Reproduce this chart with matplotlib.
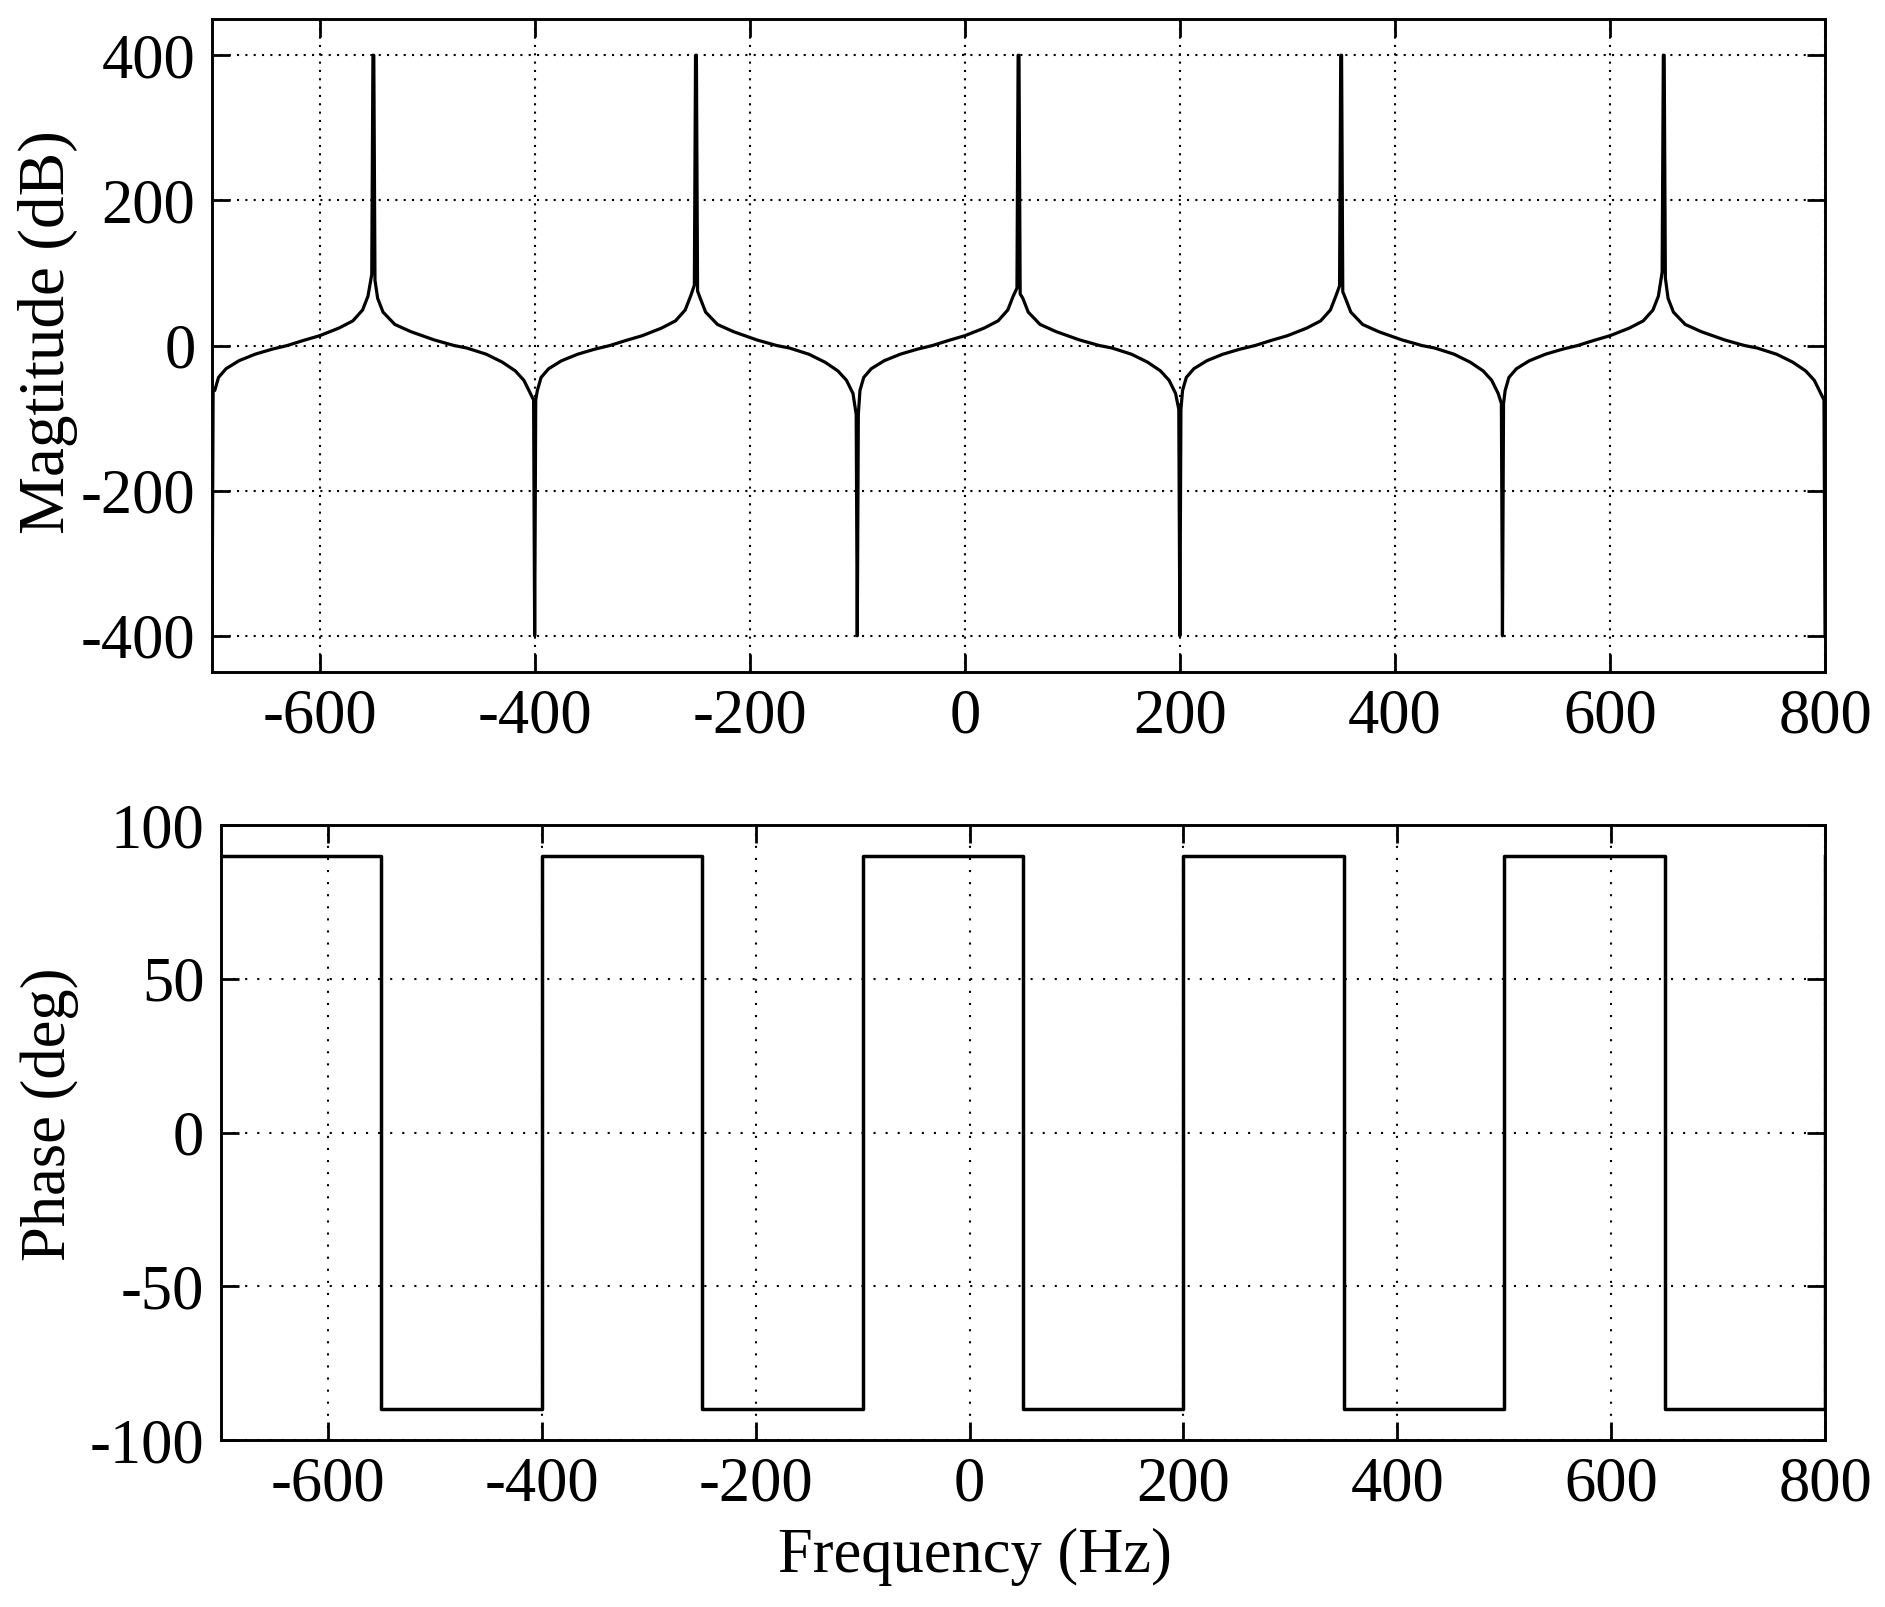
import numpy as np
import matplotlib
matplotlib.use("Agg")
import matplotlib.pyplot as plt

# --- values ---
# magnitude: spikes (peaks / notches) and the lobe shape between them
peak_freqs = [-550, -250, 50, 350, 650]
peak_base_db = [98, 83, 79, 82, 101]
notch_freqs = [-700, -400, -100, 200, 500, 800]
notch_base_db = [-60, -75, -95, -88, -80, -75]
spike_db = 400

# rising side: distance after a notch (Hz) -> dB
rise_off = [2.5, 6, 13, 25, 40, 56, 70, 85, 100, 118, 131, 140, 145]
rise_db = [-62, -44, -32, -21, -12, -5, 0, 7, 13.5, 24, 34, 49, 68]
# falling side: distance after a peak (Hz) -> dB
fall_off = [4, 9, 20, 35, 57, 75, 87, 105, 120, 132, 140, 146]
fall_db = [65, 46, 29, 19, 7.5, 0, -3.5, -12, -23, -35, -48, -66]

# phase: square wave between the edges
phase_edges = [-700, -550, -400, -250, -100, 50, 200, 350, 500, 650, 800]
phase_deg = [90, -90, 90, -90, 90, -90, 90, -90, 90, -90]

xticks = [-600, -400, -200, 0, 200, 400, 600, 800]
mag_ticks = [-400, -200, 0, 200, 400]
phase_ticks = [-100, -50, 0, 50, 100]

# build the magnitude trace
mx, my = [], []
for i, nf in enumerate(notch_freqs):
    if i > 0:
        mx.append(nf - 1.0); my.append(notch_base_db[i])
    mx.append(nf); my.append(-spike_db)
    if i == len(peak_freqs):
        break
    mx.append(nf + 1.0); my.append(notch_base_db[i])
    for o, v in zip(rise_off, rise_db):
        mx.append(nf + o); my.append(v)
    pf = peak_freqs[i]
    mx += [pf - 1.5, pf - 0.4, pf + 0.4, pf + 1.5]
    my += [peak_base_db[i], spike_db, spike_db, peak_base_db[i] - 8]
    for o, v in zip(fall_off, fall_db):
        mx.append(pf + o); my.append(v)

# build the phase trace
px = list(np.repeat(phase_edges, 2)[1:-1]) + [800]
py = list(np.repeat(phase_deg, 2)) + [90]

plt.rcParams['font.family'] = ['Liberation Serif', 'DejaVu Serif']
plt.rcParams['font.size'] = 45
plt.rcParams['axes.unicode_minus'] = False

fig = plt.figure(figsize=(18.85, 16.07), dpi=100)
ax1 = fig.add_axes([0.1125, 0.5818, 0.8557, 0.4064])
ax2 = fig.add_axes([0.1172, 0.1039, 0.8510, 0.3827])

def style(ax, period):
    for s in ax.spines.values():
        s.set_linewidth(2.1)
    ax.tick_params(direction='in', length=13, width=2.0, top=True, right=True,
                   labelsize=45, pad=12)
    ax.grid(True, color='black', linewidth=1.5, linestyle=(0, (1, period)))
    ax.set_axisbelow(True)

ax1.plot(mx, my, color='black', linewidth=2.3)
ax1.set_xlim(-700, 800)
ax1.set_ylim(-450, 450)
ax1.set_xticks(xticks)
ax1.set_yticks(mag_ticks)
style(ax1, 3.0)
ax1.set_ylabel("Magtitude (dB)", fontsize=47, va='center')
ax1.yaxis.set_label_coords(-0.102, 0.52)

ax2.plot(px, py, color='black', linewidth=2.5)
ax2.set_xlim(-700, 800)
ax2.set_ylim(-100, 100)
ax2.set_xticks(xticks)
ax2.set_yticks(phase_ticks)
style(ax2, 4.8)
ax2.set_ylabel("Phase (deg)", fontsize=45, va='center')
ax2.yaxis.set_label_coords(-0.107, 0.53)
ax2.set_xlabel("Frequency (Hz)", fontsize=45, va='center')
ax2.xaxis.set_label_coords(0.47, -0.19)

fig.savefig("out.png", dpi=100)
